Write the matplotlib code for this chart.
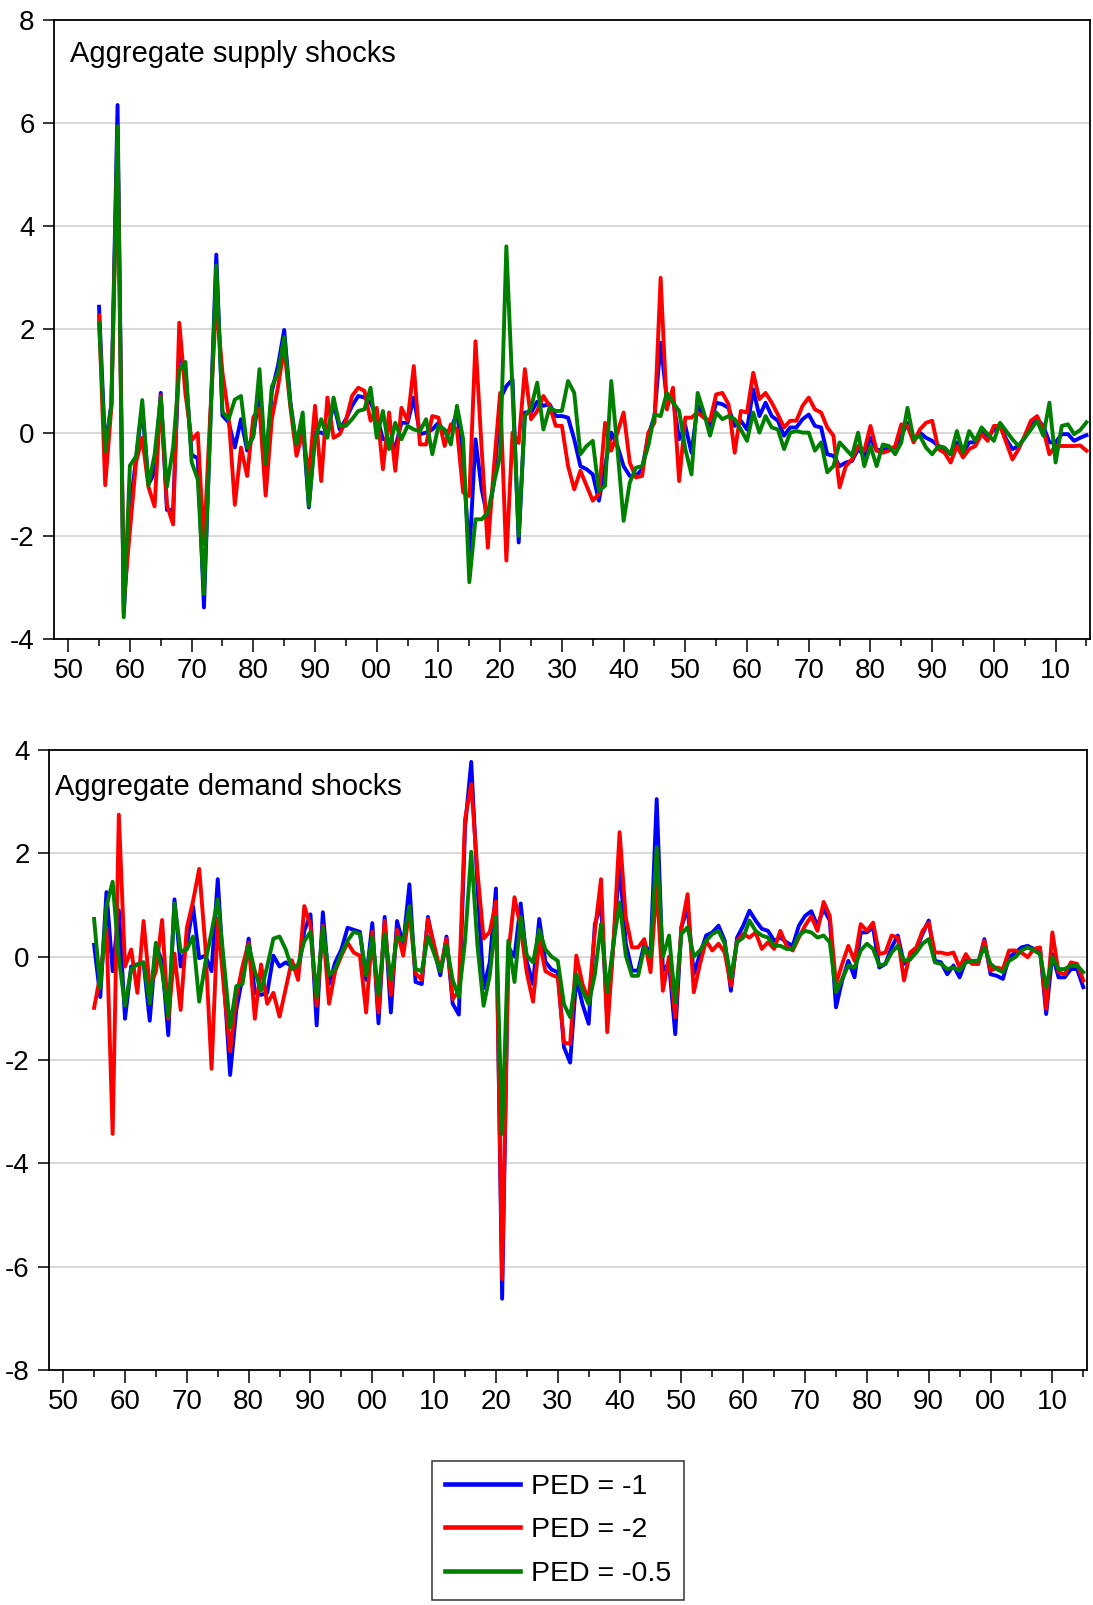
import numpy as np
import matplotlib.pyplot as plt
from matplotlib.ticker import MultipleLocator, FuncFormatter

plt.rcParams['font.family'] = ['Liberation Sans', 'DejaVu Sans']

years = np.arange(1855, 2016)

# Aggregate supply shocks
supply_ped1 = [
    2.44, -0.3, 0.55, 6.35, -3.5, -1.5, -0.5, 0.5, -1.0, -0.78,
    0.77, -1.5, -1.5, 1.58, 1.2, -0.43, -0.5, -3.39, 0.1, 3.45,
    0.33, 0.2, -0.29, 0.26, -0.35, -0.05, 0.75, -0.7, 0.8, 1.3,
    1.99, 0.6, -0.3, 0.2, -1.45, 0.0, 0.0, -0.06, 0.58, 0.06,
    0.26, 0.52, 0.71, 0.68, 0.58, 0.32, -0.13, -0.13, -0.29, 0.19,
    0.19, 0.68, -0.03, 0.0, 0.06, 0.19, 0.0, 0.06, 0.39, -0.52,
    -2.39, -0.13, -1.1, -1.68, -0.97, 0.65, 0.9, 1.03, -2.13, 0.39,
    0.39, 0.6, 0.52, 0.55, 0.32, 0.32, 0.29, -0.13, -0.65, -0.71,
    -0.81, -1.32, -0.65, 0.0, -0.26, -0.65, -0.84, -0.84, -0.71, -0.06,
    0.32, 1.74, 0.65, 0.65, -0.13, 0.13, -0.39, 0.52, 0.32, 0.13,
    0.58, 0.55, 0.48, 0.13, 0.23, 0.06, 0.84, 0.32, 0.58, 0.32,
    0.23, -0.06, 0.1, 0.1, 0.26, 0.35, 0.13, 0.1, -0.42, -0.45,
    -0.65, -0.58, -0.55, -0.32, -0.45, -0.1, -0.35, -0.32, -0.32, -0.29,
    -0.06, 0.19, -0.13, 0.0, -0.1, -0.16, -0.26, -0.32, -0.42, -0.19,
    -0.39, -0.19, -0.19, 0.0, -0.1, 0.06, 0.16, -0.13, -0.32, -0.26,
    -0.1, 0.13, 0.26, 0.13, -0.19, -0.19, -0.03, -0.03, -0.16, -0.1,
    -0.05]
supply_ped2 = [
    2.27, -1.02, 0.5, 5.7, -3.3, -1.9, -0.57, -0.1, -1.05, -1.43,
    0.71, -1.4, -1.78, 2.13, 0.75, -0.15, -0.01, -2.16, 0.3, 2.55,
    1.16, 0.33, -1.4, -0.29, -0.84, 0.3, 0.47, -1.22, 0.26, 0.89,
    1.65, 0.5, -0.45, 0.0, -0.84, 0.52, -0.94, 0.68, -0.1, -0.03,
    0.23, 0.71, 0.87, 0.81, 0.23, 0.48, -0.71, 0.39, -0.74, 0.48,
    0.23, 1.29, -0.23, -0.23, 0.32, 0.29, -0.26, 0.16, 0.06, -1.16,
    -1.23, 1.77, -0.32, -2.23, -0.65, 0.77, -2.48, 0.0, -0.2, 1.23,
    0.26, 0.42, 0.71, 0.52, 0.13, 0.13, -0.65, -1.1, -0.74, -1.03,
    -1.32, -1.19, 0.19, -0.35, 0.0, 0.39, -0.58, -0.87, -0.84, 0.0,
    0.19, 3.0, 0.45, 0.87, -0.94, 0.29, 0.29, 0.39, 0.29, 0.23,
    0.74, 0.77, 0.55, -0.39, 0.42, 0.39, 1.16, 0.65, 0.77, 0.58,
    0.35, 0.1, 0.23, 0.23, 0.52, 0.68, 0.45, 0.39, 0.1, -0.06,
    -1.06, -0.65, -0.52, -0.26, -0.35, 0.13, -0.35, -0.39, -0.35, -0.26,
    0.16, 0.13, -0.19, 0.06, 0.19, 0.23, -0.32, -0.39, -0.58, -0.26,
    -0.48, -0.32, -0.26, -0.03, -0.16, 0.13, 0.13, -0.19, -0.52, -0.32,
    -0.06, 0.23, 0.32, 0.06, -0.42, -0.26, -0.26, -0.26, -0.26, -0.25,
    -0.35]
supply_ped05 = [
    2.13, -0.36, 0.54, 5.94, -3.58, -0.64, -0.46, 0.63, -1.02, -0.43,
    0.68, -1.05, -0.29, 1.2, 1.37, -0.57, -0.91, -3.13, 0.0, 3.24,
    0.4, 0.26, 0.64, 0.71, -0.29, -0.08, 1.23, -0.6, 0.89, 1.16,
    1.85, 0.55, -0.23, 0.39, -1.42, -0.13, 0.26, -0.1, 0.68, 0.13,
    0.13, 0.26, 0.42, 0.45, 0.87, -0.1, 0.42, -0.32, 0.19, -0.13,
    0.13, 0.06, 0.03, 0.26, -0.42, 0.13, 0.06, -0.23, 0.52, -0.13,
    -2.9, -1.68, -1.68, -1.55, -0.97, -0.45, 3.61, 0.8, -2.0, 0.32,
    0.48, 0.97, 0.06, 0.48, 0.42, 0.42, 1.0, 0.77, -0.42, -0.26,
    -0.16, -1.13, -1.03, 1.0, -0.32, -1.71, -0.97, -0.68, -0.65, -0.26,
    0.35, 0.32, 0.77, 0.58, 0.42, -0.32, -0.81, 0.77, 0.39, -0.06,
    0.39, 0.26, 0.32, 0.26, 0.06, -0.16, 0.39, 0.0, 0.32, 0.1,
    0.06, -0.32, 0.0, 0.03, 0.0, 0.0, -0.35, -0.19, -0.77, -0.65,
    -0.19, -0.32, -0.45, 0.0, -0.65, -0.26, -0.65, -0.23, -0.26, -0.42,
    -0.19, 0.48, -0.13, -0.06, -0.29, -0.42, -0.26, -0.29, -0.42, 0.03,
    -0.39, 0.03, -0.16, 0.1, -0.03, -0.16, 0.19, 0.03, -0.13, -0.26,
    -0.1, 0.06, 0.23, -0.06, 0.58, -0.58, 0.13, 0.16, -0.03, 0.05,
    0.2]

# Aggregate demand shocks
demand_ped1 = [
    0.23, -0.78, 1.25, -0.28, 0.9, -1.2, -0.19, -0.15, -0.11, -1.24,
    0.23, -0.1, -1.52, 1.11, -0.19, 0.23, 0.98, -0.03, 0.02, -0.28,
    1.5, -0.45, -2.29, -1.03, -0.4, 0.35, -0.7, -0.74, -0.7, 0.02,
    -0.19, -0.11, -0.19, -0.32, 0.5, 0.82, -1.33, 0.86, -0.53, -0.11,
    0.14, 0.56, 0.52, 0.48, -0.45, 0.65, -1.29, 0.77, -1.08, 0.69,
    0.23, 1.4, -0.49, -0.53, 0.77, 0.14, -0.36, 0.39, -0.91, -1.12,
    2.5, 3.77, 1.4, -0.61, -0.11, 1.32, -6.62, 0.18, 0.0, 1.03,
    -0.1, -0.53, 0.73, -0.1, -0.25, -0.3, -1.75, -2.05, -0.4, -0.92,
    -1.3, 0.63, 1.02, -1.17, 0.25, 1.79, 0.25, -0.27, -0.27, 0.25,
    0.05, 3.05, -0.27, -0.13, -1.5, 0.57, 0.95, -0.34, 0.05, 0.41,
    0.47, 0.6, 0.31, -0.66, 0.37, 0.6, 0.89, 0.7, 0.54, 0.5,
    0.31, 0.37, 0.28, 0.21, 0.6, 0.79, 0.88, 0.6, 0.92, 0.7,
    -0.98, -0.46, -0.08, -0.4, 0.47, 0.47, 0.57, -0.21, -0.14, 0.18,
    0.41, -0.14, -0.05, 0.15, 0.44, 0.7, -0.08, -0.11, -0.34, -0.17,
    -0.4, -0.08, -0.11, -0.14, 0.34, -0.34, -0.37, -0.43, -0.01, 0.08,
    0.18, 0.21, 0.15, 0.15, -1.11, 0.05, -0.4, -0.4, -0.24, -0.24,
    -0.59]
demand_ped2 = [
    -0.99, -0.36, 0.56, -3.43, 2.75, -0.19, 0.14, -0.7, 0.69, -0.61,
    -0.28, 0.71, -1.2, 0.06, -1.03, 0.56, 1.07, 1.7, 0.2, -2.17,
    0.73, -0.61, -1.83, -0.78, -0.19, 0.27, -1.2, -0.15, -0.91, -0.7,
    -1.16, -0.61, -0.07, -0.45, 0.98, 0.6, -0.95, 0.6, -0.91, -0.28,
    0.02, 0.27, 0.08, 0.02, -1.08, 0.48, -1.08, 0.69, -0.74, 0.52,
    0.02, 0.9, -0.32, -0.45, 0.73, 0.23, -0.28, 0.35, -0.82, -0.66,
    2.66, 3.34, 1.66, 0.35, 0.48, 1.07, -6.24, 0.06, 1.15, 0.56,
    -0.32, -0.87, 0.31, -0.28, -0.35, -0.4, -1.66, -1.69, 0.02, -0.53,
    -0.85, 0.5, 1.5, -1.46, 0.25, 2.41, 0.76, 0.18, 0.18, 0.34,
    -0.3, 1.41, -0.66, 0.0, -1.17, 0.57, 1.21, -0.69, -0.14, 0.31,
    0.12, 0.25, 0.08, -0.56, 0.31, 0.44, 0.37, 0.47, 0.15, 0.28,
    0.15, 0.5, 0.21, 0.12, 0.37, 0.6, 0.78, 0.5, 1.06, 0.79,
    -0.53, -0.14, 0.21, -0.08, 0.63, 0.5, 0.66, 0.05, 0.08, 0.41,
    0.37, -0.46, 0.08, 0.18, 0.5, 0.66, 0.08, 0.08, 0.05, 0.08,
    -0.21, 0.05, -0.14, -0.14, 0.31, -0.27, -0.21, -0.24, 0.12, 0.12,
    0.08, -0.01, 0.15, 0.18, -1.01, 0.47, -0.3, -0.34, -0.11, -0.14,
    -0.46]
demand_ped05 = [
    0.73, -0.61, 0.98, 1.45, -0.03, -0.95, -0.24, -0.15, -0.11, -0.91,
    0.27, -0.28, -1.16, 1.03, 0.1, 0.14, 0.39, -0.87, -0.11, 0.48,
    1.11, -0.11, -1.37, -0.57, -0.53, 0.23, -0.28, -0.66, -0.19, 0.35,
    0.39, 0.14, -0.24, -0.15, 0.3, 0.48, -0.78, 0.56, -0.36, -0.24,
    0.06, 0.31, 0.48, 0.44, -0.36, 0.39, -0.74, 0.44, -0.45, 0.39,
    0.31, 0.98, -0.24, -0.28, 0.39, 0.06, -0.28, 0.23, -0.45, -0.78,
    0.31, 2.03, 0.23, -0.95, -0.36, 0.77, -3.43, 0.31, -0.49, 0.77,
    0.02, -0.11, 0.52, 0.14, 0.0, -0.08, -0.92, -1.17, -0.34, -0.66,
    -0.92, -0.34, 0.63, -0.69, 0.25, 1.05, 0.02, -0.37, -0.37, 0.18,
    0.0, 2.12, 0.0, 0.41, -0.88, 0.44, 0.57, 0.0, 0.12, 0.31,
    0.44, 0.5, 0.25, -0.4, 0.28, 0.37, 0.7, 0.5, 0.41, 0.37,
    0.21, 0.21, 0.15, 0.15, 0.41, 0.5, 0.47, 0.37, 0.41, 0.28,
    -0.69, -0.43, -0.17, -0.21, 0.12, 0.25, 0.15, -0.17, -0.14, 0.08,
    0.21, -0.08, -0.05, 0.08, 0.25, 0.34, -0.11, -0.14, -0.24, -0.21,
    -0.27, -0.11, -0.08, -0.08, 0.18, -0.14, -0.24, -0.3, -0.08, -0.01,
    0.12, 0.18, 0.12, 0.05, -0.59, -0.01, -0.24, -0.24, -0.17, -0.17,
    -0.3]

labels = ['PED = -1', 'PED = -2', 'PED = -0.5']
colors = ['#0000ff', '#ff0000', '#008000']

fig = plt.figure(figsize=(10.93, 16.05), dpi=100)
ax1 = fig.add_axes([0.0494, 0.6019, 0.948, 0.3857])
ax2 = fig.add_axes([0.0448, 0.1464, 0.9497, 0.3863])

def style_axis(ax, ylo, yhi):
    ax.set_xlim(1847.7, 2015.6)
    ax.set_ylim(ylo, yhi)
    ax.xaxis.set_major_locator(MultipleLocator(10))
    ax.xaxis.set_minor_locator(MultipleLocator(5))
    ax.xaxis.set_major_formatter(FuncFormatter(lambda v, p: '%02d' % (int(round(v)) % 100)))
    ax.yaxis.set_major_locator(MultipleLocator(2))
    ax.yaxis.set_major_formatter(FuncFormatter(lambda v, p: '%d' % v))
    ax.grid(axis='y', color='#d0d0d0', linewidth=1.1)
    ax.set_axisbelow(True)
    ax.tick_params(axis='x', which='major', direction='out', length=9, width=1.1,
                   labelsize=20, pad=5)
    ax.tick_params(axis='x', which='minor', direction='out', length=5, width=1.1)
    ax.tick_params(axis='y', direction='out', length=8, width=1.1, labelsize=20, pad=6)
    for s in ax.spines.values():
        s.set_linewidth(1.3)

series_top = [supply_ped1, supply_ped2, supply_ped05]
series_bot = [demand_ped1, demand_ped2, demand_ped05]

handles = []
for vals, c, lab in zip(series_top, colors, labels):
    h, = ax1.plot(years, vals, color=c, linewidth=2.8, label=lab)
    handles.append(h)
for vals, c in zip(series_bot, colors):
    ax2.plot(years, vals, color=c, linewidth=2.8)

style_axis(ax1, -4, 8)
style_axis(ax2, -8, 4)

ax1.text(0.015, 0.945, 'Aggregate supply shocks', transform=ax1.transAxes,
         fontsize=21, va='center', ha='left')
ax2.text(0.006, 0.94, 'Aggregate demand shocks', transform=ax2.transAxes,
         fontsize=21, va='center', ha='left')

leg = fig.legend(handles, labels, loc='upper left',
                 bbox_to_anchor=(431.7 / 1093, 1 - 1460.7 / 1605),
                 fontsize=20.5, frameon=True, fancybox=False, borderaxespad=0,
                 borderpad=0.45, labelspacing=0.62, handlelength=2.65,
                 handletextpad=0.4)
leg.get_frame().set_edgecolor('black')
leg.get_frame().set_linewidth(1.1)
for ln in leg.get_lines():
    ln.set_linewidth(3.3)

fig.savefig('out.png', dpi=100)
